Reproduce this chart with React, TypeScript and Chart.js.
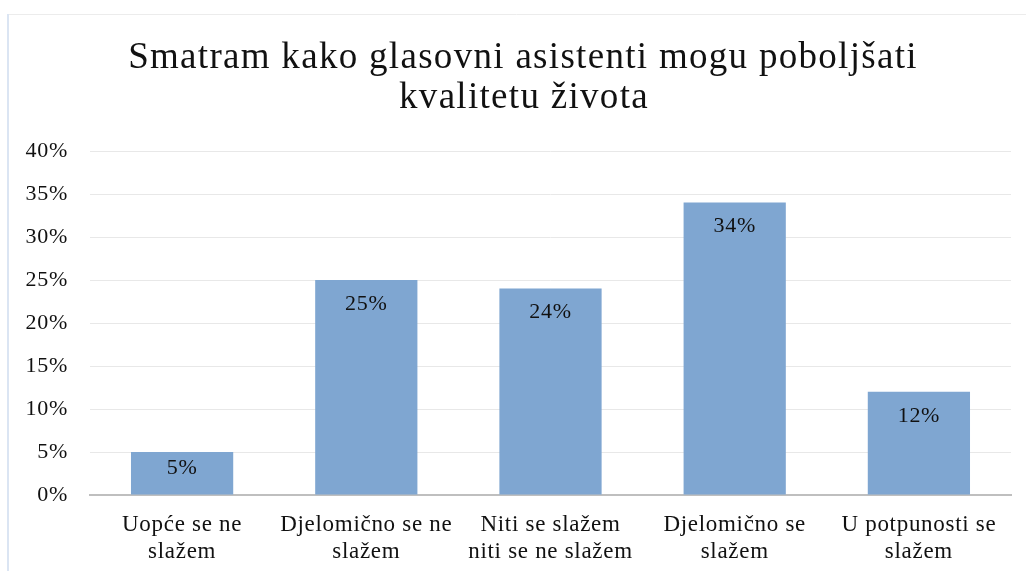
import React, { useEffect, useRef } from "react";
import { Chart, registerables } from "chart.js";

Chart.register(...registerables);

const titleLines = ["Smatram kako glasovni asistenti mogu poboljšati", "kvalitetu života"];
const categories: string[][] = [
  ["Uopće se ne", "slažem"],
  ["Djelomično se ne", "slažem"],
  ["Niti se slažem", "niti se ne slažem"],
  ["Djelomično se", "slažem"],
  ["U potpunosti se", "slažem"],
];
const values = [5, 25, 24, 34, 12];
const yMin = 0;
const yMax = 40;
const yStep = 5;

const FONT = "'Liberation Serif', 'Times New Roman', serif";
const SPACING = "0.7px";

const spacingPlugin = {
  id: "spacing",
  beforeUpdate(chart: any) {
    (chart.ctx as any).letterSpacing = SPACING;
  },
  beforeLayout(chart: any) {
    (chart.ctx as any).letterSpacing = SPACING;
  },
  beforeDraw(chart: any) {
    (chart.ctx as any).letterSpacing = SPACING;
  },
};

const labelPlugin = {
  id: "barLabels",
  afterDatasetsDraw(chart: any) {
    const ctx = chart.ctx;
    const meta = chart.getDatasetMeta(0);
    const ds = chart.data.datasets[0];
    ctx.save();
    ctx.letterSpacing = SPACING;
    ctx.font = `22px ${FONT}`;
    ctx.fillStyle = "#111111";
    ctx.textAlign = "center";
    ctx.textBaseline = "middle";
    meta.data.forEach((bar: any, i: number) => {
      const top = bar.y;
      const base = bar.base;
      const y = Math.min(top + 24, top + (base - top) * 0.37);
      ctx.fillText(`${ds.data[i]}%`, bar.x, y);
    });
    ctx.restore();
  },
};

const framePlugin = {
  id: "frame",
  beforeDraw(chart: any) {
    const ctx = chart.ctx;
    ctx.save();
    ctx.fillStyle = "#ffffff";
    ctx.fillRect(0, 0, chart.width, chart.height);
    ctx.strokeStyle = "#ececec";
    ctx.lineWidth = 1;
    ctx.beginPath();
    ctx.moveTo(7, 14.5);
    ctx.lineTo(chart.width, 14.5);
    ctx.stroke();
    ctx.strokeStyle = "#dbe5f3";
    ctx.lineWidth = 2;
    ctx.beginPath();
    ctx.moveTo(8, 14);
    ctx.lineTo(8, chart.height);
    ctx.stroke();
    ctx.restore();
  },
  afterDraw(chart: any) {
    const ctx = chart.ctx;
    ctx.save();
    ctx.letterSpacing = "1.3px";
    ctx.font = `37px ${FONT}`;
    ctx.fillStyle = "#111111";
    ctx.textAlign = "center";
    ctx.textBaseline = "alphabetic";
    ctx.fillText(titleLines[0], 523, 68);
    ctx.fillText(titleLines[1], 524, 108);
    ctx.restore();
  },
};

export default function App() {
  const ref = useRef<HTMLCanvasElement | null>(null);
  useEffect(() => {
    if (!ref.current) return;
    const chart = new Chart(ref.current, {
      type: "bar",
      data: {
        labels: categories,
        datasets: [
          {
            data: values,
            backgroundColor: "#7fa6d1",
            barPercentage: 0.555,
            categoryPercentage: 1,
          },
        ],
      },
      options: {
        animation: false,
        responsive: false,
        layout: { padding: { left: 25, right: 15, top: 151, bottom: 0 } },
        plugins: {
          legend: { display: false },
          tooltip: { enabled: false },
          title: { display: false },
        },
        scales: {
          x: {
            grid: { display: false },
            border: { display: true, color: "#bfbfbf", width: 2 },
            afterFit: (s: any) => {
              s.height = 76;
            },
            ticks: {
              color: "#111111",
              font: { family: FONT, size: 23, lineHeight: 1.2 },
              maxRotation: 0,
              autoSkip: false,
              padding: 8,
            },
          },
          y: {
            min: yMin,
            max: yMax,
            grid: { color: "#e8e8e8", lineWidth: 1, drawTicks: false },
            border: { display: false },
            afterFit: (s: any) => {
              s.width = 65;
            },
            ticks: {
              stepSize: yStep,
              color: "#111111",
              font: { family: FONT, size: 22 },
              padding: 22,
              callback: (v: any) => `${v}%`,
            },
          },
        },
      },
      plugins: [spacingPlugin, framePlugin, labelPlugin],
    });
    return () => chart.destroy();
  }, []);
  return (
    <div style={{ position: "fixed", left: 0, top: 0, width: 1026, height: 571 }}>
      <canvas ref={ref} width={1026} height={571} style={{ display: "block" }} />
    </div>
  );
}
